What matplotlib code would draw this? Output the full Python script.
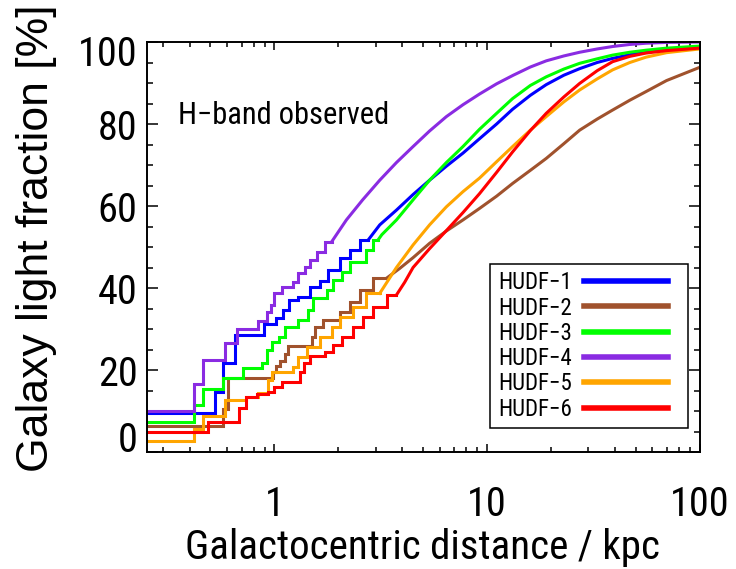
import numpy as np
import matplotlib
matplotlib.use('Agg')
import matplotlib.pyplot as plt
from matplotlib.lines import Line2D
from matplotlib.legend_handler import HandlerLine2D
from matplotlib.ticker import MultipleLocator, LogLocator, NullFormatter
import matplotlib.transforms as mtransforms

plt.rcParams['font.family'] = ['Roboto Condensed', 'Archivo Narrow', 'Liberation Sans', 'DejaVu Sans']

names = ['HUDF\u22121', 'HUDF\u22122', 'HUDF\u22123', 'HUDF\u22124', 'HUDF\u22125', 'HUDF\u22126']
colors = ['#0000ff', '#a0522d', '#00ff00', '#8a2be2', '#ffa500', '#ff0000']

# staircase part (step edges in kpc, light fraction in % between edges)
hudf1_step_r = [0.25, 0.527, 0.571, 0.652, 0.893, 1.02, 1.10, 1.17, 1.29, 1.47, 1.64, 1.79, 2.03, 2.26, 2.52, 2.76]
hudf1_step_f = [9.6, 14.7, 21.6, 28.5, 31.2, 32.8, 34.6, 37.1, 37.9, 40.3, 41.8, 44.4, 47.2, 49.3, 51.7]
hudf2_step_r = [0.25, 0.571, 0.607, 0.98, 1.02, 1.06, 1.12, 1.16, 1.5, 1.55, 1.70, 2.03, 2.26, 2.52, 2.91, 3.37]
hudf2_step_f = [6.4, 10.4, 18.0, 19.6, 21.0, 22.3, 23.9, 25.8, 28.1, 30.4, 32.2, 34.2, 36.7, 39.5, 42.4]
hudf3_step_r = [0.25, 0.419, 0.46, 0.571, 0.709, 0.87, 0.919, 0.97, 1.05, 1.12, 1.29, 1.44, 1.52, 1.76, 1.89,
                2.07, 2.26, 2.71, 2.91, 3.07]
hudf3_step_f = [7.4, 11.5, 15.3, 18.1, 20.4, 21.6, 24.9, 26.9, 28.1, 30.6, 32.2, 34.6, 37.5, 39.5, 42.0, 44.0,
                46.4, 49.3, 51.7]
hudf4_step_r = [0.25, 0.419, 0.46, 0.585, 0.668, 0.839, 0.919, 0.96, 1.0, 1.09, 1.225, 1.29, 1.39, 1.47, 1.58,
                1.73, 1.86]
hudf4_step_f = [9.9, 16.6, 22.4, 26.7, 29.9, 32.0, 34.2, 35.8, 38.9, 40.3, 41.5, 43.6, 45.2, 46.8, 48.9, 51.3]
hudf5_step_r = [0.25, 0.419, 0.46, 0.585, 0.735, 0.839, 0.935, 0.97, 1.225, 1.29, 1.42, 1.64, 1.86, 2.03, 2.35,
                2.71, 3.13]
hudf5_step_f = [2.6, 5.5, 8.9, 12.8, 13.3, 14.3, 17.6, 19.6, 20.8, 23.2, 25.7, 28.1, 30.6, 33.0, 35.4, 38.7]
hudf6_step_r = [0.25, 0.489, 0.683, 0.735, 0.83, 0.935, 1.0, 1.08, 1.32, 1.37, 1.47, 1.73, 1.89, 2.07, 2.35,
                2.61, 2.91, 3.37, 3.75]
hudf6_step_f = [4.8, 7.2, 10.7, 13.3, 14.1, 14.7, 15.9, 17.1, 19.6, 21.6, 23.4, 24.5, 26.1, 28.1, 30.4, 33.0,
                35.4, 38.3]

# smooth outer part
hudf1_r = [3.13, 3.75, 4.49, 5.37, 6.44, 7.71, 9.22, 11.1, 13.2, 16.0, 19.0, 23.0, 27.3, 33.0, 39.0, 47.0, 56.0, 70.0, 100]
hudf1_f = [55.4, 59.0, 62.8, 66.3, 69.7, 72.9, 76.4, 80.0, 83.6, 87.0, 89.6, 91.9, 93.5, 95.0, 96.0, 96.9, 97.6, 98.2, 98.8]
hudf2_r = [3.89, 4.49, 5.37, 6.44, 7.71, 9.22, 11.1, 13.2, 16.0, 19.0, 23.0, 27.3, 33.0, 39.0, 47.0, 56.0, 70.0, 100]
hudf2_f = [44.8, 47.4, 50.9, 53.9, 56.6, 59.4, 62.4, 65.5, 68.7, 71.6, 75.2, 78.5, 81.2, 83.4, 85.8, 87.9, 90.6, 93.8]
hudf3_r = [3.2, 3.75, 4.49, 5.37, 6.44, 7.71, 9.22, 11.1, 13.2, 16.0, 19.0, 23.0, 27.3, 33.0, 39.0, 47.0, 56.0, 70.0, 100]
hudf3_f = [53.0, 56.6, 61.5, 66.3, 70.6, 74.5, 78.7, 82.6, 86.2, 89.4, 91.5, 93.4, 94.8, 95.9, 96.8, 97.5, 98.0, 98.5, 99.0]
hudf4_r = [2.18, 2.6, 3.13, 3.75, 4.49, 5.37, 6.44, 7.71, 9.22, 11.1, 13.3, 16.0, 19.0, 23.0, 27.3, 33.0, 39.0, 47.0,
           56.0, 70.0, 100]
hudf4_f = [56.6, 61.5, 66.3, 70.6, 74.5, 78.3, 81.8, 84.7, 87.3, 89.8, 91.9, 93.9, 95.4, 96.6, 97.5, 98.3, 98.9, 99.4,
           99.7, 99.9, 100.0]
hudf5_r = [3.75, 4.49, 5.37, 6.44, 7.71, 9.22, 11.1, 13.2, 16.0, 19.0, 23.0, 27.3, 33.0, 39.0, 47.0, 56.0, 70.0, 100]
hudf5_f = [45.0, 50.5, 55.4, 59.8, 63.5, 66.8, 70.8, 74.5, 78.5, 81.8, 85.4, 88.3, 91.0, 93.2, 95.0, 96.3, 97.4, 98.3]
hudf6_r = [4.1, 4.49, 5.37, 6.44, 7.71, 9.22, 11.1, 13.2, 16.0, 19.0, 23.0, 27.3, 33.0, 39.0, 47.0, 56.0, 70.0, 100]
hudf6_f = [41.4, 45.0, 49.6, 54.0, 58.4, 63.0, 68.2, 73.2, 78.4, 82.6, 86.6, 89.9, 93.0, 95.2, 96.5, 97.3, 97.9, 98.5]

steps = [(hudf1_step_r, hudf1_step_f), (hudf2_step_r, hudf2_step_f), (hudf3_step_r, hudf3_step_f),
         (hudf4_step_r, hudf4_step_f), (hudf5_step_r, hudf5_step_f), (hudf6_step_r, hudf6_step_f)]
smooth = [(hudf1_r, hudf1_f), (hudf2_r, hudf2_f), (hudf3_r, hudf3_f),
          (hudf4_r, hudf4_f), (hudf5_r, hudf5_f), (hudf6_r, hudf6_f)]

W, H = 736, 569
fig = plt.figure(figsize=(W / 100, H / 100), dpi=100)
ax = fig.add_axes([146.5 / W, 1 - 452 / H, 553 / W, 410 / H])

for (sr, sf), (r, f), c in zip(steps, smooth, colors):
    ax.plot(sr, sf + [sf[-1]], color=c, lw=2.2, drawstyle='steps-post', solid_joinstyle='miter')
    ax.plot([sr[-1]] + r, [sf[-1]] + f, color=c, lw=2.2)

ax.set_xscale('log')
ax.set_xlim(0.25, 100)
ax.set_ylim(0, 100)
ax.set_xticks([1, 10, 100], labels=['1', '10', '100'])
ax.xaxis.set_minor_locator(LogLocator(base=10, subs=np.arange(2, 10)))
ax.xaxis.set_minor_formatter(NullFormatter())
ax.set_yticks([0, 20, 40, 60, 80, 100], labels=['0', '20', '40', '60', '80', '100'])
ax.yaxis.set_minor_locator(MultipleLocator(5))

ax.tick_params(which='both', direction='in', top=True, right=True, width=1.1, labelsize=29)
ax.tick_params(axis='x', which='major', length=6, pad=24)
ax.tick_params(axis='x', which='minor', length=3.5)
ax.tick_params(axis='y', which='major', length=8, pad=6.5)
ax.tick_params(axis='y', which='minor', length=4)
for s in ax.spines.values():
    s.set_linewidth(1.4)

# edge labels sit a little inside the frame in the original
ylabs = ax.yaxis.get_majorticklabels()
ylabs[0].set_transform(ylabs[0].get_transform() + mtransforms.ScaledTranslation(0, 16 / 100, fig.dpi_scale_trans))
ylabs[-1].set_transform(ylabs[-1].get_transform() + mtransforms.ScaledTranslation(0, -8 / 100, fig.dpi_scale_trans))

ax.text(0.057, 0.80, 'H\u2212band observed', transform=ax.transAxes, fontsize=22, ha='left', va='baseline')

fig.text(422 / W, 1 - 559 / H, 'Galactocentric distance / kpc', fontsize=29.5, ha='center', va='baseline')
fig.text(37 / W, 1 - 238 / H, 'Galaxy light fraction [%]', rotation=90, fontsize=32,
         family=['Liberation Sans', 'DejaVu Sans'], ha='center', va='center')


class ShortLine(HandlerLine2D):
    # line drawn on the left part of the handle box, leaving a gap to the frame
    def create_artists(self, legend, orig_handle, xdescent, ydescent, width, height, fontsize, trans):
        return super().create_artists(legend, orig_handle, xdescent, ydescent, width * 0.87,
                                      height, fontsize, trans)


handles = [Line2D([], [], color=c, lw=4) for c in colors]
leg = ax.legend(handles, names, loc='lower right', bbox_to_anchor=(0.979, 0.0585), borderaxespad=0,
                markerfirst=False, fontsize=16.5, handlelength=4.2, handletextpad=0.55,
                labelspacing=0.1, borderpad=0.32, fancybox=False, framealpha=1,
                handler_map={Line2D: ShortLine()})
leg.get_frame().set_edgecolor('black')
leg.get_frame().set_linewidth(1.1)

fig.savefig('out.png', dpi=100)
